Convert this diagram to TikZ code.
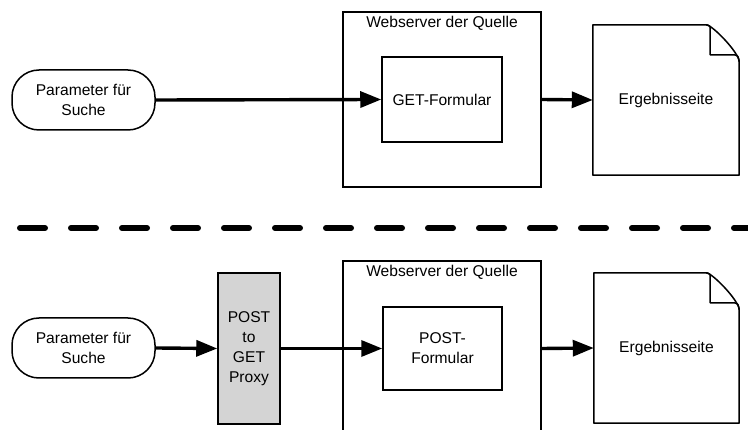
\documentclass[tikz,border=0pt]{standalone}
\usepackage{fontspec}
\setmainfont{Liberation Sans}
\usetikzlibrary{arrows.meta}
\tikzset{
  lbl/.style={font=\fontsize{15.6}{20}\selectfont, align=center},
  box/.style={draw, line width=1.5pt, rectangle, inner sep=0pt, lbl},
  term/.style={box, rounded corners=27pt, minimum width=143pt, minimum height=60pt},
  flow/.style={line width=3.4pt, -{Triangle[length=21pt,width=16pt]}},
  docshape/.style={line width=1.5pt, line join=round},
}
\begin{document}
\begin{tikzpicture}[x=1pt,y=-1pt]
\useasboundingbox (0,0) rectangle (748,430);
\clip (0,0) rectangle (748,430);

% ---------- upper flow: direct GET form ----------
\node[term] (p1) at (83.5,100) {Parameter für\\Suche};
\node[box, minimum width=198pt, minimum height=175pt] (ws1) at (442,99.5) {};
\node[lbl, anchor=base] (ws1t) at (442,27.5) {Webserver der Quelle};
\node[box, minimum width=120pt, minimum height=85pt] (get) at (442,99.5) {GET-Formular};
\node[lbl, minimum width=146pt, minimum height=150pt, inner sep=0pt] (doc1) at (666,100) {Ergebnisseite};
\draw[docshape] (doc1.south west) -- (doc1.north west) -- ([xshift=-33pt]doc1.north east)
  .. controls ([xshift=-27pt]doc1.north east) and ([yshift=-28pt]doc1.north east) .. ([yshift=-37pt]doc1.north east)
  -- (doc1.south east) -- cycle;
\draw[docshape] ([xshift=-33pt]doc1.north east) .. controls ([xshift=-29pt,yshift=-1pt]doc1.north east) .. ([xshift=-29pt,yshift=-5pt]doc1.north east)
  -- ([xshift=-29pt,yshift=-30pt]doc1.north east) -- ([xshift=-5pt,yshift=-30pt]doc1.north east)
  .. controls ([xshift=-1pt,yshift=-31pt]doc1.north east) .. ([yshift=-37pt]doc1.north east);

\draw[flow] (p1.east) -- (get.west);
\draw[flow] (ws1.east) -- (doc1.west);

% ---------- separator ----------
\coordinate (sepL) at (20,228);
\coordinate (sepR) at (760,228);
\draw[line width=6pt, line cap=round, dash pattern=on 25pt off 26pt] (sepL) -- (sepR);

% ---------- lower flow: POST form via proxy ----------
\node[term] (p2) at (83.5,348) {Parameter für\\Suche};
\node[box, fill=black!17, minimum width=62pt, minimum height=151pt] (proxy) at (249,348.5) {POST\\to\\GET\\Proxy};
\node[box, minimum width=198pt, minimum height=200pt] (ws2) at (442,361) {};
\node[lbl, anchor=base] (ws2t) at (442,277) {Webserver der Quelle};
\node[box, minimum width=119pt, minimum height=83pt] (post) at (442.5,348.5) {POST-\\Formular};
\node[lbl, minimum width=145pt, minimum height=150pt, inner sep=0pt] (doc2) at (666.5,348) {Ergebnisseite};
\draw[docshape] (doc2.south west) -- (doc2.north west) -- ([xshift=-33pt]doc2.north east)
  .. controls ([xshift=-27pt]doc2.north east) and ([yshift=-28pt]doc2.north east) .. ([yshift=-37pt]doc2.north east)
  -- (doc2.south east) -- cycle;
\draw[docshape] ([xshift=-33pt]doc2.north east) .. controls ([xshift=-29pt,yshift=-1pt]doc2.north east) .. ([xshift=-29pt,yshift=-5pt]doc2.north east)
  -- ([xshift=-29pt,yshift=-30pt]doc2.north east) -- ([xshift=-5pt,yshift=-30pt]doc2.north east)
  .. controls ([xshift=-1pt,yshift=-31pt]doc2.north east) .. ([yshift=-37pt]doc2.north east);

\draw[flow] (p2.east) -- (proxy.west);
\draw[flow] (proxy.east) -- (post.west);
\draw[flow] (ws2.east |- post.west) -- (doc2.west);
\end{tikzpicture}
\end{document}
